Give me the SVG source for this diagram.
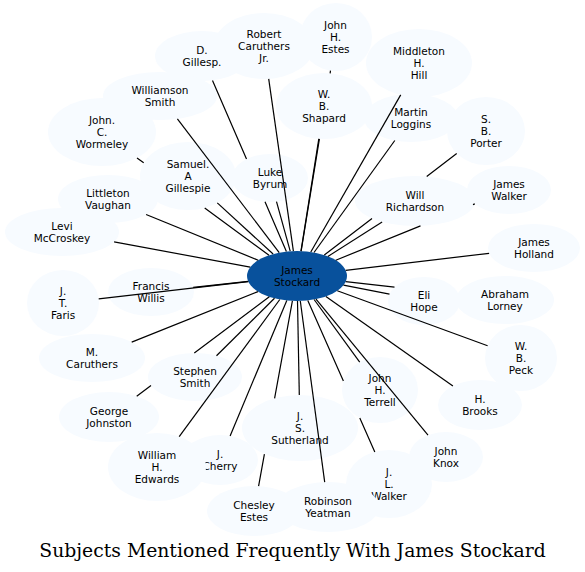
<svg xmlns="http://www.w3.org/2000/svg" width="585" height="572" viewBox="0 0 585 572">
<style>
.n ellipse{fill:#f7fbff}
.hub ellipse{fill:#08519c}
text{font-family:"DejaVu Sans","Liberation Sans",sans-serif;font-size:10.5px;text-anchor:middle;fill:#000}
.title{font-family:"DejaVu Serif","Liberation Serif",serif;font-size:18.8px}
#edges path{stroke:#000;stroke-width:1.2;fill:none}
</style>
<rect width="585" height="572" fill="#fff"/>
<g id="nodes">
<g id="n-d-gillesp" class="n"><ellipse cx="202" cy="56" rx="47" ry="25"/><text x="202" y="53.7">D.</text><text x="202" y="66">Gillesp.</text></g>
<g id="n-john-h-estes" class="n"><ellipse cx="336" cy="37" rx="36" ry="34"/><text x="335.5" y="28.5">John</text><text x="335.5" y="40.8">H.</text><text x="335.5" y="53.1">Estes</text></g>
<g id="n-robert-caruthers-jr" class="n"><ellipse cx="264" cy="46" rx="50" ry="33"/><text x="264" y="37.5">Robert</text><text x="264" y="49.8">Caruthers</text><text x="264" y="62.1">Jr.</text></g>
<g id="n-middleton-h-hill" class="n"><ellipse cx="419" cy="63" rx="53" ry="34"/><text x="419" y="54.5">Middleton</text><text x="419" y="66.8">H.</text><text x="419" y="79.1">Hill</text></g>
<g id="n-williamson-smith" class="n"><ellipse cx="160" cy="96" rx="57" ry="24"/><text x="160" y="93.7">Williamson</text><text x="160" y="106">Smith</text></g>
<g id="n-w-b-shapard" class="n"><ellipse cx="324" cy="106" rx="48" ry="33"/><text x="324" y="97.5">W.</text><text x="324" y="109.8">B.</text><text x="324" y="122.1">Shapard</text></g>
<g id="n-martin-loggins" class="n"><ellipse cx="411" cy="118" rx="47" ry="24"/><text x="411" y="115.7">Martin</text><text x="411" y="128">Loggins</text></g>
<g id="n-s-b-porter" class="n"><ellipse cx="486" cy="131" rx="39" ry="34"/><text x="486" y="122.5">S.</text><text x="486" y="134.8">B.</text><text x="486" y="147.1">Porter</text></g>
<g id="n-john-c-wormeley" class="n"><ellipse cx="102" cy="132" rx="54" ry="34"/><text x="102" y="123.5">John.</text><text x="102" y="135.8">C.</text><text x="102" y="148.1">Wormeley</text></g>
<g id="n-littleton-vaughan" class="n"><ellipse cx="108" cy="199" rx="50" ry="24"/><text x="108" y="196.7">Littleton</text><text x="108" y="209">Vaughan</text></g>
<g id="n-samuel-a-gillespie" class="n"><ellipse cx="188" cy="176" rx="48" ry="34"/><text x="188" y="167.5">Samuel.</text><text x="188" y="179.8">A</text><text x="188" y="192.1">Gillespie</text></g>
<g id="n-luke-byrum" class="n"><ellipse cx="270" cy="178" rx="38" ry="24"/><text x="270" y="175.7">Luke</text><text x="270" y="188">Byrum</text></g>
<g id="n-james-walker" class="n"><ellipse cx="509" cy="190" rx="42" ry="24"/><text x="509" y="187.7">James</text><text x="509" y="200">Walker</text></g>
<g id="n-will-richardson" class="n"><ellipse cx="415" cy="201" rx="60" ry="25"/><text x="415" y="198.7">Will</text><text x="415" y="211">Richardson</text></g>
<g id="n-levi-mccroskey" class="n"><ellipse cx="62" cy="232" rx="57" ry="24"/><text x="62" y="229.7">Levi</text><text x="62" y="242">McCroskey</text></g>
<g id="n-james-holland" class="n"><ellipse cx="534" cy="248" rx="46" ry="24"/><text x="534" y="245.7">James</text><text x="534" y="258">Holland</text></g>
<g id="n-j-t-faris" class="n"><ellipse cx="63" cy="303" rx="36" ry="33"/><text x="63" y="294.5">J.</text><text x="63" y="306.8">T.</text><text x="63" y="319.1">Faris</text></g>
<g id="n-francis-willis" class="n"><ellipse cx="151" cy="292" rx="43" ry="24"/><text x="151" y="289.7">Francis</text><text x="151" y="302">Willis</text></g>
<g id="n-abraham-lorney" class="n"><ellipse cx="505" cy="300" rx="49" ry="24"/><text x="505" y="297.7">Abraham</text><text x="505" y="310">Lorney</text></g>
<g id="n-eli-hope" class="n"><ellipse cx="424" cy="301" rx="36" ry="24"/><text x="424" y="298.7">Eli</text><text x="424" y="311">Hope</text></g>
<g id="n-m-caruthers" class="n"><ellipse cx="92" cy="358" rx="53" ry="24"/><text x="92" y="355.7">M.</text><text x="92" y="368">Caruthers</text></g>
<g id="n-w-b-peck" class="n"><ellipse cx="521" cy="358" rx="36" ry="33"/><text x="521" y="349.5">W.</text><text x="521" y="361.8">B.</text><text x="521" y="374.1">Peck</text></g>
<g id="n-george-johnston" class="n"><ellipse cx="109" cy="417" rx="50" ry="25"/><text x="109" y="414.7">George</text><text x="109" y="427">Johnston</text></g>
<g id="n-stephen-smith" class="n"><ellipse cx="195" cy="377" rx="47" ry="24"/><text x="195" y="374.7">Stephen</text><text x="195" y="387">Smith</text></g>
<g id="n-john-h-terrell" class="n"><ellipse cx="380" cy="390" rx="38" ry="33"/><text x="380" y="381.5">John</text><text x="380" y="393.8">H.</text><text x="380" y="406.1">Terrell</text></g>
<g id="n-h-brooks" class="n"><ellipse cx="480" cy="405" rx="42" ry="25"/><text x="480" y="402.7">H.</text><text x="480" y="415">Brooks</text></g>
<g id="n-j-cherry" class="n"><ellipse cx="220" cy="460" rx="38" ry="25"/><text x="220" y="457.7">J.</text><text x="220" y="470">Cherry</text></g>
<g id="n-william-h-edwards" class="n"><ellipse cx="157" cy="467" rx="49" ry="34"/><text x="157" y="458.5">William</text><text x="157" y="470.8">H.</text><text x="157" y="483.1">Edwards</text></g>
<g id="n-j-s-sutherland" class="n"><ellipse cx="300" cy="428" rx="58" ry="33"/><text x="300" y="419.5">J.</text><text x="300" y="431.8">S.</text><text x="300" y="444.1">Sutherland</text></g>
<g id="n-john-knox" class="n"><ellipse cx="446" cy="457" rx="37" ry="25"/><text x="446" y="454.7">John</text><text x="446" y="467">Knox</text></g>
<g id="n-j-l-walker" class="n"><ellipse cx="389" cy="484" rx="43" ry="34"/><text x="389" y="475.5">J.</text><text x="389" y="487.8">L.</text><text x="389" y="500.1">Walker</text></g>
<g id="n-chesley-estes" class="n"><ellipse cx="254" cy="511" rx="47" ry="25"/><text x="254" y="508.7">Chesley</text><text x="254" y="521">Estes</text></g>
<g id="n-robinson-yeatman" class="n"><ellipse cx="328" cy="507" rx="51" ry="25"/><text x="328" y="504.7">Robinson</text><text x="328" y="517">Yeatman</text></g>
<g id="n-james-stockard" class="hub"><ellipse cx="297" cy="276" rx="50" ry="25"/><text x="297" y="273.8">James</text><text x="297" y="286.1">Stockard</text></g>
</g>
<g id="edges">
<path d="M286.4,251.6L265,201.8M246.5,159.1L212.5,80.4"/>
<path d="M293.4,251.1L268.7,78.8"/>
<path d="M301.1,251.1L319.4,138.8M330.1,73.3L330.5,70.6"/>
<path d="M310.8,252L400.7,94.9"/>
<path d="M279.2,252.6L177.4,118.9"/>
<path d="M301,251.1L318.8,138.8"/>
<path d="M314,252.5L394.8,140.5"/>
<path d="M324.3,255.1L372,218.4M426.7,176.5L456.7,153.5"/>
<path d="M269,255.3L204.7,207.9M143.7,162.8L137,157.9"/>
<path d="M273.1,254L217.3,202.9"/>
<path d="M290.2,251.2L276.5,201.6"/>
<path d="M258.2,260.2L146.1,214.5"/>
<path d="M327.9,256.4L382.1,221.9"/>
<path d="M335.8,260.2L420.5,225.9M474.8,203.9L473,204.6"/>
<path d="M250.2,267.2L114.1,241.8"/>
<path d="M345.7,270.3L489.1,253.3"/>
<path d="M248.3,281.6L98.7,298.9"/>
<path d="M248.2,281.4L193.2,287.4"/>
<path d="M343.5,285.2L389.5,294.2"/>
<path d="M345.7,281.6L394.5,287.2"/>
<path d="M258,291.6L131.7,342.1"/>
<path d="M337.3,290.8L487.6,345.8"/>
<path d="M274.5,298.3L216.5,355.7"/>
<path d="M314.1,299.5L359.7,362.1"/>
<path d="M269.3,296.8L194.3,353M151,385.5L136.7,396.2"/>
<path d="M325.9,296.4L452.9,385.9"/>
<path d="M297.5,301L299.3,395"/>
<path d="M279.8,299.5L179.2,436.7"/>
<path d="M286.8,300.5L230.1,435.9"/>
<path d="M316,299.1L428,435.2"/>
<path d="M307.8,300.4L343.4,381M359.8,417.9L374.8,451.9"/>
<path d="M292.4,300.9L274.6,398.3M264.4,454.1L258.6,486.1"/>
<path d="M300.3,301L324.7,482.1"/>
</g>
<text class="title" x="292.5" y="556.5">Subjects Mentioned Frequently With James Stockard</text>
</svg>
